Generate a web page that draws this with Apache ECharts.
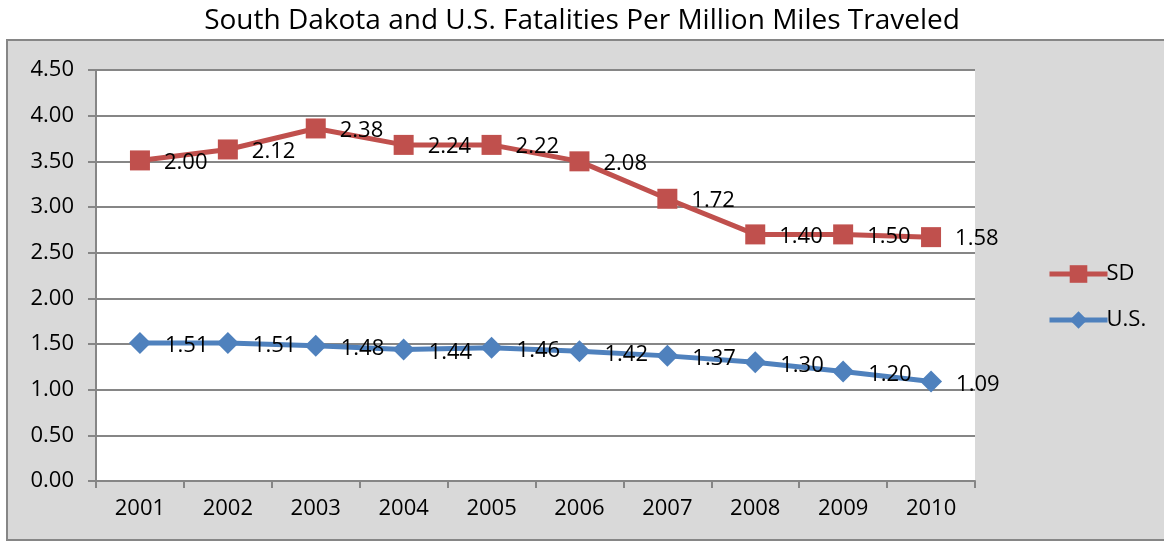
<!DOCTYPE html>
<html>
<head>
<meta charset="utf-8">
<script src="https://cdn.jsdelivr.net/npm/echarts@6/dist/echarts.min.js"></script>
<style>html,body{margin:0;padding:0;background:#fff}#main{width:1164px;height:543px}</style>
</head>
<body>
<div id="main"></div>
<script>
// 南达科他州与全美每百万英里死亡率（堆叠折线）
var years = ['2001','2002','2003','2004','2005','2006','2007','2008','2009','2010'];
var usData = [1.51, 1.51, 1.48, 1.44, 1.46, 1.42, 1.37, 1.30, 1.20, 1.09];
var sdData = [2.00, 2.12, 2.38, 2.24, 2.22, 2.08, 1.72, 1.40, 1.50, 1.58];

var chart = echarts.init(document.getElementById('main'));
var font = 'Open Sans';
option = {
    backgroundColor: '#fff',
    animation: false,
    textStyle: { fontFamily: font },
    title: {
        text: 'South Dakota and U.S. Fatalities Per Million Miles Traveled',
        left: 'center',
        top: 2,
        textStyle: { fontSize: 28, fontWeight: 'normal', color: '#000', fontFamily: font }
    },
    graphic: [{
        type: 'rect',
        z: -10,
        shape: { x: 7, y: 40, width: 1170, height: 500 },
        style: { fill: '#d9d9d9', stroke: '#868686', lineWidth: 2 }
    }],
    legend: {
        orient: 'vertical',
        left: 1042,
        top: 258,
        itemGap: 24,
        itemWidth: 58,
        itemHeight: 22,
        lineStyle: { width: 5 },
        data: ['SD', 'U.S.'],
        textStyle: { fontSize: 22, color: '#000', fontFamily: font, padding: [0, 0, 0, -6] }
    },
    grid: {
        left: 96,
        right: 189,
        top: 70,
        bottom: 62,
        show: true,
        backgroundColor: '#fff',
        borderWidth: 0
    },
    xAxis: {
        type: 'category',
        data: years,
        boundaryGap: true,
        axisLine: { lineStyle: { color: '#868686', width: 2 } },
        axisTick: { show: true, length: 7, lineStyle: { color: '#868686', width: 2 } },
        axisLabel: { fontSize: 22, color: '#000', margin: 17, fontFamily: font }
    },
    yAxis: {
        type: 'value',
        min: 0,
        max: 4.5,
        interval: 0.5,
        axisLine: { show: true, lineStyle: { color: '#868686', width: 2 } },
        axisTick: { show: true, length: 8, lineStyle: { color: '#868686', width: 2 } },
        splitLine: { lineStyle: { color: '#868686', width: 2 } },
        axisLabel: {
            fontSize: 22, color: '#000', margin: 22, fontFamily: font,
            formatter: function (v) { return v.toFixed(2); }
        }
    },
    series: [
        {
            name: 'U.S.',
            type: 'line',
            stack: 'total',
            data: usData,
            color: '#4f81bd',
            symbol: 'diamond',
            symbolSize: 22,
            lineStyle: { width: 5 },
            label: {
                show: true,
                position: 'right',
                distance: 14,
                offset: [0, 3],
                fontSize: 22,
                color: '#000',
                formatter: function (p) { return p.value.toFixed(2); }
            }
        },
        {
            name: 'SD',
            type: 'line',
            stack: 'total',
            data: sdData,
            color: '#c0504d',
            symbol: 'rect',
            symbolSize: 20,
            lineStyle: { width: 5 },
            label: {
                show: true,
                position: 'right',
                distance: 14,
                offset: [0, 2],
                fontSize: 22,
                color: '#000',
                formatter: function (p) { return sdData[p.dataIndex].toFixed(2); }
            }
        }
    ]
};
chart.setOption(option);
</script>
</body>
</html>
